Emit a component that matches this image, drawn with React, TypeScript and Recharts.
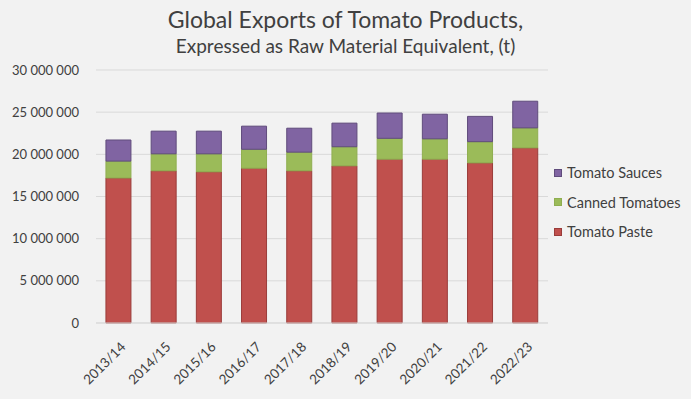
import { Bar, BarChart, CartesianGrid, XAxis, YAxis } from "recharts";

const SEASONS = ["2013/14", "2014/15", "2015/16", "2016/17", "2017/18", "2018/19", "2019/20", "2020/21", "2021/22", "2022/23"];
const PASTE = [17200000, 18050000, 17930000, 18360000, 18050000, 18640000, 19430000, 19430000, 18990000, 20770000];
const CANNED = [2000000, 2010000, 2130000, 2240000, 2210000, 2260000, 2470000, 2410000, 2510000, 2370000];
const SAUCES = [2500000, 2690000, 2690000, 2740000, 2840000, 2800000, 3000000, 2920000, 3000000, 3160000];
const Y_TICKS = [0, 5000000, 10000000, 15000000, 20000000, 25000000, 30000000];

const SERIES = [
  { key: "paste", name: "Tomato Paste", fill: "#C0504D", stroke: "#9A3C3A" },
  { key: "canned", name: "Canned Tomatoes", fill: "#9BBB59", stroke: "#8FAE50" },
  { key: "sauces", name: "Tomato Sauces", fill: "#8064A2", stroke: "#604C7C" },
];

const data = SEASONS.map((s, i) => ({ season: s, paste: PASTE[i], canned: CANNED[i], sauces: SAUCES[i] }));

const FONT = "Lato, 'Open Sans', sans-serif";

const fmt = (v: number) => v.toLocaleString("en-US").replace(/,/g, " ");

function SeasonTick({ x, y, payload }: any) {
  return (
    <g transform={`translate(${x + 5},${y + 14})`}>
      <text textAnchor="end" transform="rotate(-45)" fill="#404040" fontSize={13.5} fontFamily={FONT} dy={4}>
        {payload.value}
      </text>
    </g>
  );
}

export default function App() {
  return (
    <div style={{ position: "absolute", left: 0, top: 0, width: 691, height: 399, background: "#F2F2F2", fontFamily: FONT, color: "#404040" }}>
      <div style={{ position: "absolute", top: 5, left: 0, width: 691, textAlign: "center", fontSize: 23 }}>
        Global Exports of Tomato Products,
      </div>
      <div style={{ position: "absolute", top: 34, left: 0, width: 691, textAlign: "center", fontSize: 19 }}>
        Expressed as Raw Material Equivalent, (t)
      </div>
      <BarChart width={691} height={399} data={data} margin={{ top: 70, right: 143, bottom: 0, left: 0 }} barCategoryGap="22%">
        <CartesianGrid vertical={false} stroke="#D9D9D9" />
        <XAxis
          dataKey="season"
          height={76}
          tick={<SeasonTick />}
          tickLine={false}
          axisLine={{ stroke: "#D9D9D9" }}
          interval={0}
        />
        <YAxis
          width={96}
          domain={[0, 30000000]}
          ticks={Y_TICKS}
          tickFormatter={fmt}
          tick={{ fontSize: 13, fill: "#404040", fontFamily: FONT }}
          tickLine={false}
          axisLine={false}
          tickMargin={11}
        />
        {SERIES.map((s) => (
          <Bar key={s.key} dataKey={s.key} name={s.name} stackId="a" fill={s.fill} stroke={s.stroke} strokeWidth={1} isAnimationActive={false} />
        ))}
      </BarChart>
      <div style={{ position: "absolute", left: 554, top: 158, fontSize: 14.5 }}>
        {[...SERIES].reverse().map((s) => (
          <div key={s.key} style={{ display: "flex", alignItems: "center", height: 29.5 }}>
            <span style={{ width: 8, height: 8, background: s.fill, border: `1px solid ${s.stroke}`, marginRight: 5, boxSizing: "border-box" }} />
            {s.name}
          </div>
        ))}
      </div>
    </div>
  );
}
